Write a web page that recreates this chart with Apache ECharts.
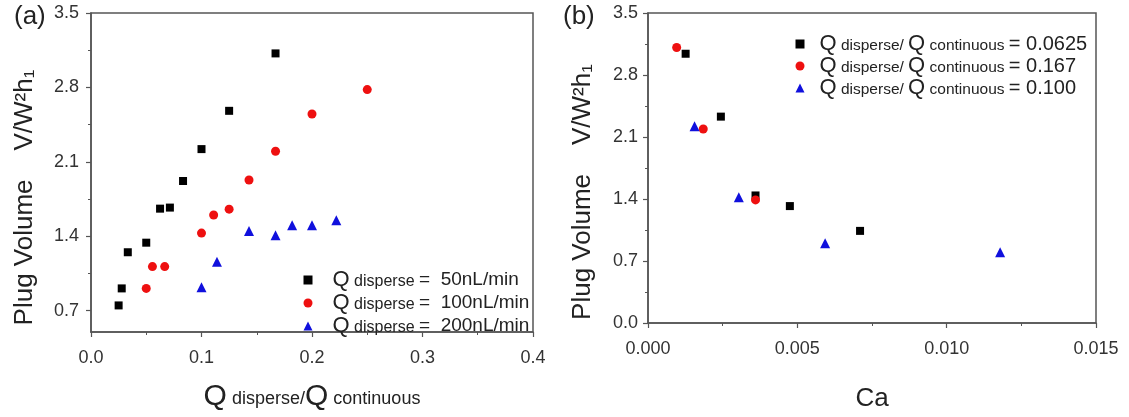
<!DOCTYPE html>
<html><head><meta charset="utf-8">
<script src="https://cdn.jsdelivr.net/npm/echarts@6/dist/echarts.min.js"></script>
<style>html,body{margin:0;padding:0;background:#fff}#c{width:1129px;height:417px}</style>
</head><body><div id="c"></div>
<script>
// ---------- Panel (a): Plug volume vs Q disperse / Q continuous ----------
const aBlackX = [0.025, 0.0278, 0.0333, 0.05, 0.0625, 0.0714, 0.0833, 0.1, 0.125, 0.167];
const aBlackY = [0.75, 0.91, 1.25, 1.34, 1.66, 1.67, 1.92, 2.22, 2.58, 3.12];
const aRedX = [0.05, 0.0556, 0.0667, 0.1, 0.111, 0.125, 0.143, 0.167, 0.2, 0.25];
const aRedY = [0.91, 1.115, 1.115, 1.43, 1.60, 1.655, 1.93, 2.20, 2.55, 2.78];
const aBlueX = [0.1, 0.114, 0.143, 0.167, 0.182, 0.2, 0.222];
const aBlueY = [0.92, 1.16, 1.45, 1.41, 1.505, 1.505, 1.55];
// ---------- Panel (b): Plug volume vs Ca ----------
const bBlackX = [0.00126, 0.00244, 0.0036, 0.00475, 0.0071];
const bBlackY = [3.04, 2.33, 1.44, 1.32, 1.04];
const bRedX = [0.00096, 0.00185, 0.0036];
const bRedY = [3.11, 2.19, 1.39];
const bBlueX = [0.00156, 0.00304, 0.00593, 0.01179];
const bBlueY = [2.22, 1.42, 0.90, 0.80];

const aLegendVals = ['50nL/min', '100nL/min', '200nL/min'];
const bLegendVals = ['0.0625', '0.167', '0.100'];
const aYTicks = [0.7, 1.4, 2.1, 2.8, 3.5];
const aYMinorTicks = [1.05, 1.75, 2.45, 3.15];
const yTitle = 'Plug Volume    V/W\u00B2h\u2081';

const pair = (xs, ys) => xs.map((x, i) => [x, ys[i]]);
const C_BLACK = '#000000', C_RED = '#ee1010', C_BLUE = '#1010dd';
const SYMS = ['rect', 'circle', 'triangle'];
const SIZES = [8, 9, 10];
const COLS = [C_BLACK, C_RED, C_BLUE];
const AX = '#555', TXT = '#222', LBL = '#333';
const FONT = 'Liberation Sans, Arial, sans-serif';

const aNames = aLegendVals.map(v => 'Q disperse = ' + v);
const bNames = bLegendVals.map(v => 'Q disperse/ Q continuous = ' + v);

function baseX(grid, min, max, interval, dec, nameOpts, nameGap) {
  return Object.assign({
    type: 'value', gridIndex: grid, min, max, interval,
    axisLine: {show: true, onZero: false, lineStyle: {color: AX, width: 1.5}},
    axisTick: {show: true, inside: false, length: 5, lineStyle: {color: AX, width: 1.2}},
    minorTick: {show: true, splitNumber: 2, length: 3, lineStyle: {color: AX, width: 1}},
    splitLine: {show: false}, minorSplitLine: {show: false},
    axisLabel: {color: LBL, fontSize: 18, fontFamily: FONT, margin: 17, formatter: v => v.toFixed(dec)},
    nameLocation: 'middle', nameGap
  }, nameOpts);
}

function yName(shift) {
  return {
    name: '{t|' + yTitle + '}', nameLocation: 'middle',
    nameTextStyle: {rich: {t: {color: TXT, fontSize: 26, fontFamily: FONT, padding: [0, shift, 0, 0]}}}
  };
}

const option = {
  animation: false,
  backgroundColor: '#fff',
  textStyle: {fontFamily: FONT},
  grid: [
    {left: 91, top: 13, width: 442, height: 327, show: true, borderColor: AX, borderWidth: 1.5, backgroundColor: 'transparent'},
    {left: 648, top: 13, width: 448, height: 327, show: true, borderColor: AX, borderWidth: 1.5, backgroundColor: 'transparent'}
  ],
  xAxis: [
    baseX(0, 0, 0.4, 0.1, 1, {
      name: '{q|Q}{s| disperse/}{q|Q}{s| continuous}',
      nameTextStyle: {color: TXT, rich: {
        q: {fontSize: 30, fontFamily: FONT, color: TXT},
        s: {fontSize: 18, fontFamily: FONT, color: TXT, padding: [5, 0, 0, 0]}
      }}
    }, 50),
    baseX(1, 0, 0.015, 0.005, 3, {
      name: 'Ca', nameTextStyle: {color: TXT, fontSize: 26, fontFamily: FONT}
    }, 63)
  ],
  yAxis: [
    Object.assign({
      type: 'value', gridIndex: 0, min: 0.5, max: 3.5, position: 'left',
      axisLine: {show: true, onZero: false, lineStyle: {color: AX, width: 1.5}},
      axisTick: {show: true, inside: false, length: 5, customValues: aYTicks, lineStyle: {color: AX, width: 1.2}},
      axisLabel: {color: LBL, fontSize: 18, fontFamily: FONT, margin: 12, customValues: aYTicks, formatter: v => v.toFixed(1)},
      splitLine: {show: false}, nameGap: 53
    }, yName(50)),
    {
      type: 'value', gridIndex: 0, min: 0.5, max: 3.5, position: 'left', offset: 0,
      axisLine: {show: false},
      axisTick: {show: true, inside: false, length: 3, customValues: aYMinorTicks, lineStyle: {color: AX, width: 1}},
      axisLabel: {show: false}, splitLine: {show: false}
    },
    Object.assign({
      type: 'value', gridIndex: 1, min: 0, max: 3.5, interval: 0.7, position: 'left',
      axisLine: {show: true, onZero: false, lineStyle: {color: AX, width: 1.5}},
      axisTick: {show: true, inside: false, length: 5, lineStyle: {color: AX, width: 1.2}},
      minorTick: {show: true, splitNumber: 2, length: 3, lineStyle: {color: AX, width: 1}},
      axisLabel: {color: LBL, fontSize: 18, fontFamily: FONT, margin: 10, formatter: v => v.toFixed(1)},
      splitLine: {show: false}, minorSplitLine: {show: false}, nameGap: 52
    }, yName(48))
  ],
  legend: [
    {
      data: aNames.map((n, i) => ({name: n, icon: SYMS[i]})),
      orient: 'vertical', left: 303.5, top: 269, itemWidth: 9, itemHeight: 9, itemGap: 1, padding: 0,
      formatter: n => '{q0|Q}{s| disperse }{e|=  ' + n.split('= ')[1] + '}',
      textStyle: {color: TXT, rich: {
        q0: {fontSize: 22, fontFamily: FONT, color: TXT, lineHeight: 20, padding: [0, 0, 0, 15]},
        s: {fontSize: 16, fontFamily: FONT, color: TXT, lineHeight: 20, padding: [3, 0, 0, 0]},
        e: {fontSize: 19, fontFamily: FONT, color: TXT, lineHeight: 20}
      }}
    },
    {
      data: bNames.map((n, i) => ({name: n, icon: SYMS[i]})),
      orient: 'vertical', left: 795.5, top: 33, itemWidth: 9, itemHeight: 9, itemGap: 0, padding: 0,
      formatter: n => '{q0|Q}{s| disperse/ }{q|Q}{s| continuous }{e|= ' + n.split('= ')[1] + '}',
      textStyle: {color: TXT, rich: {
        q0: {fontSize: 22, fontFamily: FONT, color: TXT, lineHeight: 20, padding: [0, 0, 0, 10]},
        q: {fontSize: 22, fontFamily: FONT, color: TXT, lineHeight: 20},
        s: {fontSize: 15.5, fontFamily: FONT, color: TXT, lineHeight: 20, padding: [3, 0, 0, 0]},
        e: {fontSize: 20, fontFamily: FONT, color: TXT, lineHeight: 20}
      }}
    }
  ],
  graphic: [
    {type: 'text', left: 14, top: 4, style: {text: '(a)', fontSize: 26, fontFamily: FONT, fill: TXT}},
    {type: 'text', left: 563, top: 4, style: {text: '(b)', fontSize: 26, fontFamily: FONT, fill: TXT}}
  ],
  series: [
    [aNames[0], 0, 0, 0, aBlackX, aBlackY],
    [aNames[1], 0, 0, 1, aRedX, aRedY],
    [aNames[2], 0, 0, 2, aBlueX, aBlueY],
    [bNames[0], 1, 2, 0, bBlackX, bBlackY],
    [bNames[1], 1, 2, 1, bRedX, bRedY],
    [bNames[2], 1, 2, 2, bBlueX, bBlueY]
  ].map(([name, xi, yi, k, xs, ys]) => ({
    name, type: 'scatter', xAxisIndex: xi, yAxisIndex: yi,
    symbol: SYMS[k], symbolSize: SIZES[k],
    itemStyle: {color: COLS[k], opacity: 1},
    data: pair(xs, ys)
  }))
};
echarts.init(document.getElementById('c'), null, {renderer: 'canvas'}).setOption(option);
</script>
</body></html>
